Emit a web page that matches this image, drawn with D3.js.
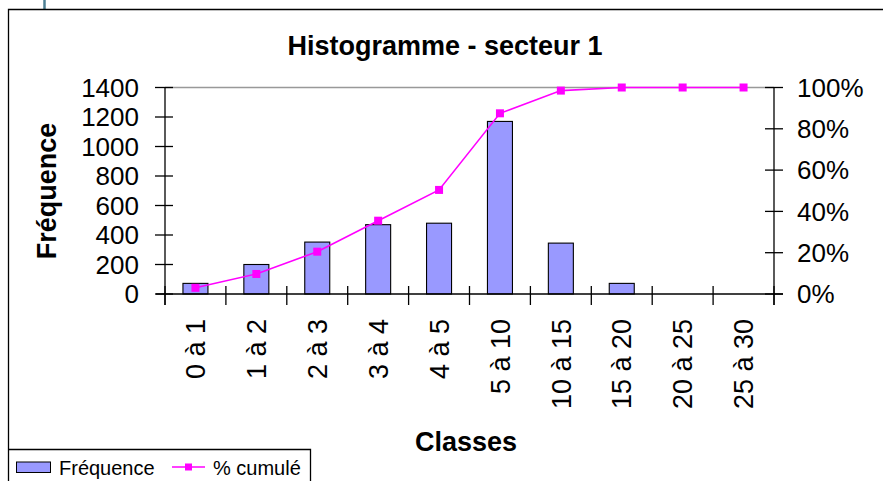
<!DOCTYPE html>
<html>
<head>
<meta charset="utf-8">
<script src="https://cdn.jsdelivr.net/npm/d3@7"></script>
<style>
  html, body { margin: 0; padding: 0; background: #fff; }
  svg { display: block; font-family: "Liberation Sans", Arial, sans-serif; }
</style>
</head>
<body>
<svg id="chart" width="883" height="481"></svg>
<script>
// Classes of the histogram and their frequencies
const classes = ["0 à 1", "1 à 2", "2 à 3", "3 à 4", "4 à 5", "5 à 10", "10 à 15", "15 à 20", "20 à 25", "25 à 30"];
const frequence = [72, 200, 352, 470, 480, 1170, 345, 72, 0, 0];
// Cumulative percentage per class
const cumule = [3.0, 9.7, 20.5, 35.5, 50.4, 87.5, 98.5, 100, 100, 100];
const leftTicks = [0, 200, 400, 600, 800, 1000, 1200, 1400];
const rightTicks = [0, 20, 40, 60, 80, 100];

const svg = d3.select("#chart");
const plot = { left: 165, right: 774, top: 87.5, bottom: 294 };

const x = d3.scaleBand().domain(classes).range([plot.left, plot.right]).paddingInner(0).paddingOuter(0);
const yL = d3.scaleLinear().domain([0, 1400]).range([plot.bottom, plot.top]);
const yR = d3.scaleLinear().domain([0, 100]).range([plot.bottom, plot.top]);
const cx = d => x(d) + x.bandwidth() / 2;

// Outer chart frame (top and left edges) and small decoration line
svg.append("line").attr("x1", 44.5).attr("x2", 44.5).attr("y1", 0).attr("y2", 9)
  .attr("stroke", "#4d7f93").attr("stroke-width", 2.5);
svg.append("path").attr("d", "M8.5,481 V9.5 H883").attr("fill", "none").attr("stroke", "#000").attr("stroke-width", 1.3);

// Title
svg.append("text").attr("x", 445).attr("y", 55).attr("text-anchor", "middle")
  .attr("font-weight", "bold").attr("font-size", 27).text("Histogramme - secteur 1");

// Top gridline
svg.append("line").attr("x1", plot.left).attr("x2", plot.right)
  .attr("y1", yL(1400)).attr("y2", yL(1400)).attr("stroke", "#999").attr("stroke-width", 1.5);

// Bars
const barW = 25;
svg.append("g").selectAll("rect").data(classes).join("rect")
  .attr("x", d => cx(d) - barW / 2)
  .attr("width", barW)
  .attr("y", (d, i) => yL(frequence[i]))
  .attr("height", (d, i) => yL(0) - yL(frequence[i]))
  .attr("fill", "#9999ff").attr("stroke", "#000").attr("stroke-width", 1.1)
  .attr("visibility", (d, i) => frequence[i] > 0 ? "visible" : "hidden");

// Axes lines
const axisG = svg.append("g").attr("stroke", "#000").attr("stroke-width", 1.3);
axisG.append("line").attr("x1", plot.left).attr("x2", plot.left).attr("y1", plot.top).attr("y2", plot.bottom + 11);
axisG.append("line").attr("x1", plot.right).attr("x2", plot.right).attr("y1", plot.top).attr("y2", plot.bottom + 11);
axisG.append("line").attr("x1", plot.left - 9).attr("x2", plot.right + 9).attr("y1", plot.bottom).attr("y2", plot.bottom);

// Left ticks
axisG.selectAll(".lt").data(leftTicks).join("line")
  .attr("x1", plot.left - 10).attr("x2", plot.left + 8)
  .attr("y1", d => yL(d)).attr("y2", d => yL(d));
// Right ticks
axisG.selectAll(".rt").data(rightTicks).join("line")
  .attr("x1", plot.right - 9).attr("x2", plot.right + 9)
  .attr("y1", d => yR(d)).attr("y2", d => yR(d));
// Category ticks (boundaries)
const bounds = classes.map(c => x(c)).concat([plot.right]);
axisG.selectAll(".ct").data(bounds).join("line")
  .attr("x1", d => d).attr("x2", d => d)
  .attr("y1", plot.bottom - 8).attr("y2", plot.bottom + 11);

// Tick labels
svg.append("g").selectAll("text").data(leftTicks).join("text")
  .attr("x", 139).attr("y", d => yL(d)).attr("dy", "0.36em")
  .attr("text-anchor", "end").attr("font-size", 26).text(d => d);
svg.append("g").selectAll("text").data(rightTicks).join("text")
  .attr("x", 797).attr("y", d => yR(d)).attr("dy", "0.36em")
  .attr("text-anchor", "start").attr("font-size", 26).text(d => d + "%");
svg.append("g").selectAll("text").data(classes).join("text")
  .attr("transform", d => `translate(${cx(d)},319) rotate(-90)`)
  .attr("dy", "0.36em").attr("text-anchor", "end").attr("font-size", 27).text(d => d);

// Axis titles
svg.append("text").attr("transform", "translate(56,191) rotate(-90)")
  .attr("text-anchor", "middle").attr("font-weight", "bold").attr("font-size", 27).text("Fréquence");
svg.append("text").attr("x", 466).attr("y", 451).attr("text-anchor", "middle")
  .attr("font-weight", "bold").attr("font-size", 27).text("Classes");

// Cumulative line with square markers
const line = d3.line().x(d => cx(d.c)).y(d => yR(d.v));
const pts = classes.map((c, i) => ({ c, v: cumule[i] }));
svg.append("path").datum(pts).attr("d", line).attr("fill", "none")
  .attr("stroke", "#ff00ff").attr("stroke-width", 1.6);
svg.append("g").selectAll("rect").data(pts).join("rect")
  .attr("x", d => cx(d.c) - 4).attr("y", d => yR(d.v) - 4)
  .attr("width", 8).attr("height", 8).attr("fill", "#ff00ff");

// Legend
const lg = svg.append("g");
lg.append("path").attr("d", "M8.5,449.5 H310.5 V481").attr("fill", "none").attr("stroke", "#000").attr("stroke-width", 1.3);
lg.append("rect").attr("x", 16.5).attr("y", 462).attr("width", 34).attr("height", 10.5)
  .attr("fill", "#9999ff").attr("stroke", "#000").attr("stroke-width", 1);
lg.append("text").attr("x", 59).attr("y", 474.5).attr("font-size", 20).text("Fréquence");
lg.append("line").attr("x1", 172).attr("x2", 205).attr("y1", 467).attr("y2", 467)
  .attr("stroke", "#ff00ff").attr("stroke-width", 1.6);
lg.append("rect").attr("x", 185).attr("y", 463.5).attr("width", 7).attr("height", 7).attr("fill", "#ff00ff");
lg.append("text").attr("x", 213).attr("y", 474.5).attr("font-size", 20).text("% cumulé");
</script>
</body>
</html>
